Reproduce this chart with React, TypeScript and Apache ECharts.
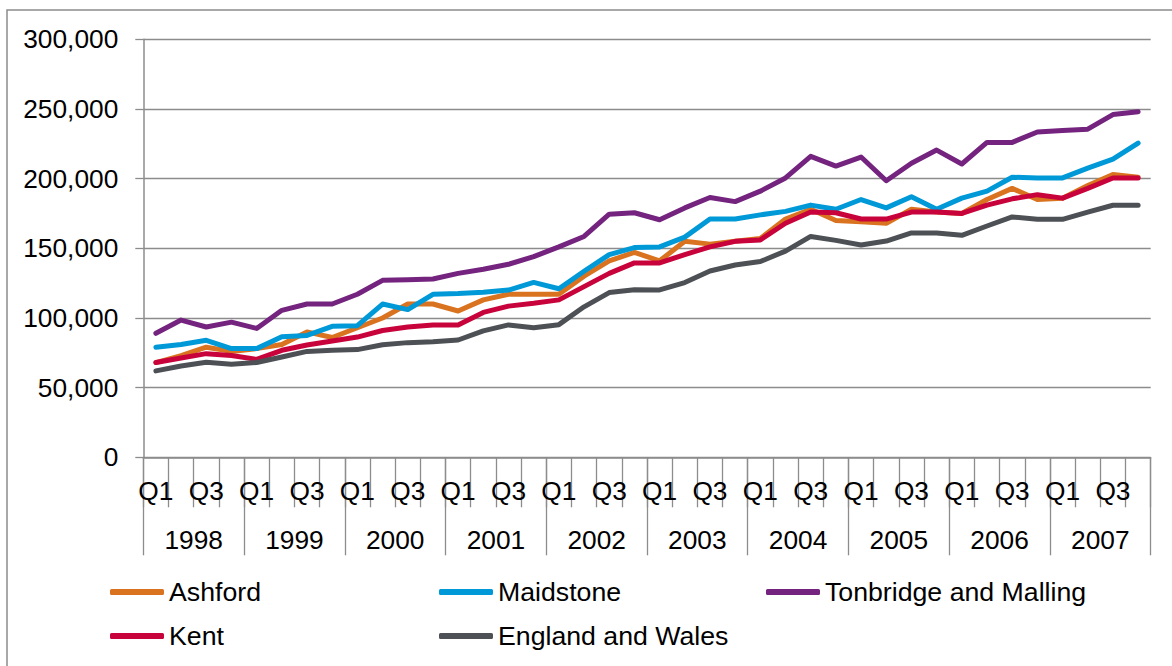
import React, { useEffect, useRef } from "react";
import * as echarts from "echarts";

const years = ["1998", "1999", "2000", "2001", "2002", "2003", "2004", "2005", "2006", "2007"];
const quarters = ["Q1", "Q2", "Q3", "Q4"];
const categories = years.flatMap((y) => quarters.map((q) => y + " " + q));
const yTicks = [0, 50000, 100000, 150000, 200000, 250000, 300000];

const ashford = [
  68000, 73000, 79000, 76000, 78000, 81000, 90000, 86000, 93000, 100000,
  110000, 110000, 105000, 113000, 117000, 117000, 117000, 130000, 141000, 147000,
  141000, 155000, 153000, 155000, 157000, 171000, 178000, 170000, 169000, 168000,
  178000, 176000, 175000, 185000, 193000, 185000, 186000, 195000, 203000, 201000,
];
const maidstone = [
  79000, 81000, 84000, 78000, 78000, 86500, 87500, 94000, 94500, 110000,
  106000, 117000, 117500, 118500, 120000, 125500, 121000, 133500, 145500, 150500,
  151000, 158000, 171000, 171000, 174000, 176500, 181000, 178000, 185000, 179000,
  187000, 178000, 186000, 191000, 201000, 200500, 200500, 207500, 214000, 225500,
];
const tonbridge = [
  89000, 98500, 93500, 97000, 92500, 105500, 110000, 110000, 117000, 127000,
  127500, 128000, 132000, 135000, 138500, 144000, 151000, 158500, 174500, 175500,
  170500, 179000, 186500, 183500, 191000, 200500, 216000, 209000, 215500, 198500,
  211000, 220500, 210500, 226000, 226000, 233500, 234500, 235500, 246000, 248000,
];
const kent = [
  68000, 71300, 74400, 73000, 70300, 76800, 80600, 83500, 86300, 91000,
  93500, 95000, 95000, 104000, 108500, 110500, 113000, 122500, 132000, 139500,
  139500, 145500, 151000, 155000, 156000, 168000, 176000, 175500, 171000, 171000,
  176000, 176000, 175000, 181000, 185500, 188500, 186000, 193000, 200500, 200500,
];
const englandWales = [
  62000, 65500, 68200, 66700, 68000, 72000, 76000, 76800, 77300, 80800,
  82300, 83000, 84200, 90700, 95000, 93000, 95200, 108000, 118200, 120300,
  120100, 125400, 133700, 138000, 140500, 148000, 158500, 155700, 152400, 155200,
  161000, 161000, 159300, 166000, 172500, 170800, 170800, 176000, 180900, 180900,
];

const seriesDefs = [
  { name: "Ashford", data: ashford, color: "#D9731F" },
  { name: "Maidstone", data: maidstone, color: "#0099D8" },
  { name: "Tonbridge and Malling", data: tonbridge, color: "#74237F" },
  { name: "Kent", data: kent, color: "#C8033C" },
  { name: "England and Wales", data: englandWales, color: "#4D5155" },
];

const legendPos: Record<string, [number, number]> = {
  Ashford: [110, 577],
  Maidstone: [439, 577],
  "Tonbridge and Malling": [766, 577],
  Kent: [110, 621],
  "England and Wales": [439, 621],
};

const FONT = "'Liberation Sans', Arial, sans-serif";
const FS = 26.3;
const LEGEND_FS = 26.7;
const GRID_COLOR = "#8c8c8c";

export default function App() {
  const ref = useRef<HTMLDivElement>(null);
  useEffect(() => {
    if (!ref.current) return;
    const chart = echarts.init(ref.current, null, { renderer: "svg" });
    chart.setOption({
      animation: false,
      backgroundColor: "#ffffff",
      textStyle: { fontFamily: FONT },
      graphic: [
        {
          type: "rect",
          shape: { x: 7, y: 10, width: 1200, height: 700 },
          style: { fill: "none", stroke: GRID_COLOR, lineWidth: 1.5 },
          silent: true,
        },
      ],
      grid: { left: 143.3, right: 21.3, top: 39.3, bottom: 208.7, containLabel: false },
      legend: seriesDefs.map((s) => ({
        data: [s.name],
        left: legendPos[s.name][0],
        top: legendPos[s.name][1],
        padding: 0,
        icon: "roundRect",
        itemWidth: 54,
        itemHeight: 6,
        textStyle: { fontSize: LEGEND_FS, color: "#000", fontFamily: FONT, lineHeight: 30 },
      })),
      xAxis: [
        {
          type: "category",
          data: categories,
          position: "bottom",
          boundaryGap: true,
          axisLine: { show: true, lineStyle: { color: GRID_COLOR, width: 1.5 } },
          axisTick: { show: true, interval: 0, length: 50, lineStyle: { color: GRID_COLOR, width: 1.3 } },
          axisLabel: {
            interval: 1,
            margin: 21,
            fontSize: FS,
            color: "#000",
            fontFamily: FONT,
            formatter: (v: string) => v.split(" ")[1],
          },
          splitLine: { show: false },
        },
        {
          type: "category",
          data: years,
          position: "bottom",
          boundaryGap: true,
          axisLine: { show: false },
          axisTick: { show: true, interval: 0, length: 98, lineStyle: { color: GRID_COLOR, width: 1.3 } },
          axisLabel: { interval: 0, margin: 70, fontSize: FS, color: "#000", fontFamily: FONT },
          splitLine: { show: false },
        },
      ],
      yAxis: {
        type: "value",
        min: yTicks[0],
        max: yTicks[yTicks.length - 1],
        interval: 50000,
        axisLine: { show: true, lineStyle: { color: GRID_COLOR, width: 1.5 } },
        axisTick: { show: true, length: 8, lineStyle: { color: GRID_COLOR, width: 1.3 } },
        axisLabel: {
          margin: 25,
          fontSize: FS,
          color: "#000",
          fontFamily: FONT,
          formatter: (v: number) => v.toLocaleString("en-US"),
        },
        splitLine: { show: true, lineStyle: { color: GRID_COLOR, width: 1.3 } },
      },
      series: seriesDefs.map((s) => ({
        name: s.name,
        type: "line",
        xAxisIndex: 0,
        data: s.data,
        symbol: "none",
        smooth: false,
        color: s.color,
        lineStyle: { color: s.color, width: 5, cap: "round", join: "round" },
        itemStyle: { color: s.color },
      })),
    });
    return () => chart.dispose();
  }, []);
  return (
    <div
      ref={ref}
      style={{ position: "absolute", left: 0, top: 0, width: 1172, height: 666 }}
    />
  );
}
